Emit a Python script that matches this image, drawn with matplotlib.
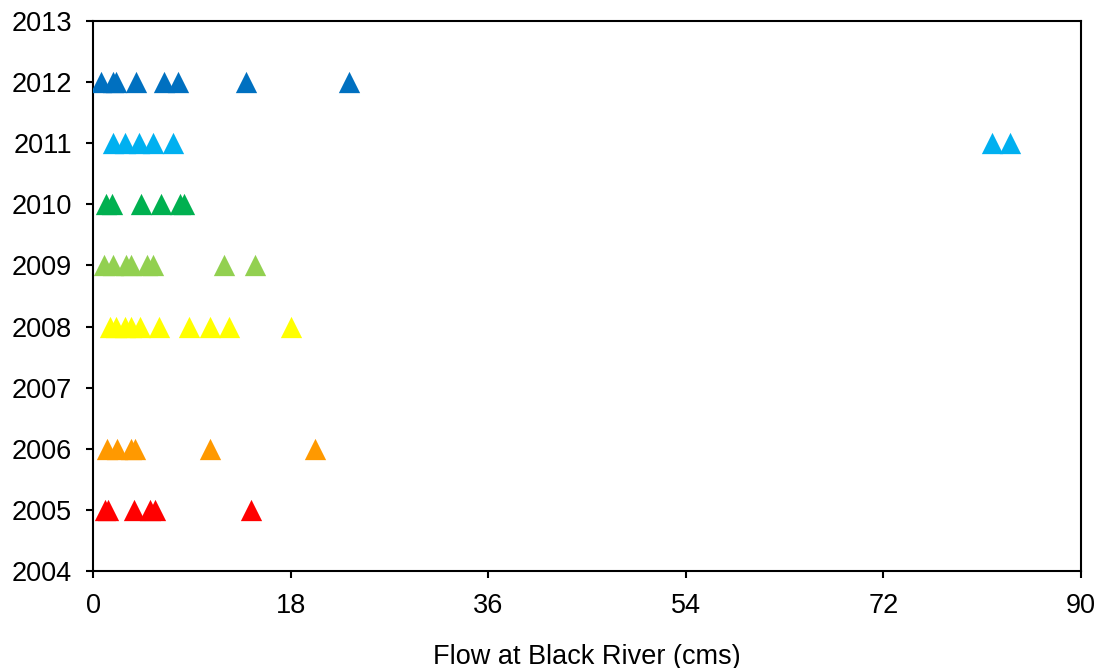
import matplotlib.pyplot as plt

plt.rcParams['font.family'] = ['Liberation Sans', 'DejaVu Sans']

# Flow readings (cms) per sampling year
years = [2005, 2006, 2008, 2009, 2010, 2011, 2012]
flows = {
    2005: [1.1, 1.4, 3.7, 5.2, 5.65, 14.4],
    2006: [1.25, 2.2, 3.5, 3.85, 10.65, 20.2],
    2008: [1.55, 2.05, 2.9, 3.45, 4.3, 6.0, 8.7, 10.7, 12.4, 18.0],
    2009: [1.0, 1.85, 3.05, 3.5, 4.9, 5.5, 11.95, 14.8],
    2010: [1.15, 1.75, 4.4, 6.2, 7.9, 8.3],
    2011: [1.85, 2.95, 4.15, 5.5, 7.3, 81.9, 83.5],
    2012: [0.75, 1.85, 2.05, 3.9, 6.45, 7.75, 13.9, 23.3],
}
colors = {
    2005: '#FF0000',
    2006: '#FF9900',
    2008: '#FFFF00',
    2009: '#92D050',
    2010: '#00B050',
    2011: '#00B0F0',
    2012: '#0070C0',
}
x_ticks = [0, 18, 36, 54, 72, 90]
y_ticks = list(range(2004, 2014))

fig = plt.figure(figsize=(11.02, 6.68), dpi=100)
ax = fig.add_axes([0.0844, 0.1452, 0.8966, 0.8234])

for yr in years:
    ax.scatter(flows[yr], [yr] * len(flows[yr]), marker='^', s=235,
               color=colors[yr], linewidths=0, zorder=3)

ax.set_xlim(0, 90)
ax.set_ylim(2004, 2013)
ax.set_xticks(x_ticks)
ax.set_yticks(y_ticks)
ax.tick_params(labelsize=19.5, length=5, width=1.5)
ax.tick_params(axis='y', pad=10)
ax.tick_params(axis='x', pad=11)
for sp in ax.spines.values():
    sp.set_linewidth(1.5)
ax.set_xlabel('Flow at Black River (cms)', fontsize=19.5, labelpad=18)

fig.savefig('out.png', dpi=100)
